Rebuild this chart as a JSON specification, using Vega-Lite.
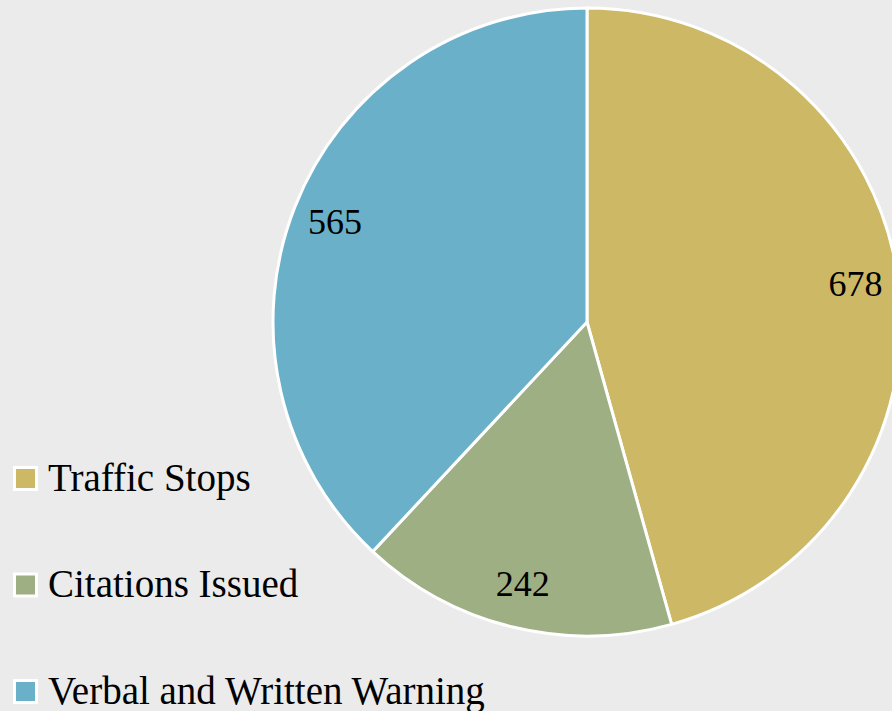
{
  "$schema": "https://vega.github.io/schema/vega-lite/v6.json",
  "autosize": "none",
  "width": 610,
  "height": 610,
  "padding": {"left": 282, "top": 17, "right": 0, "bottom": 84},
  "background": "#ebebeb",
  "config": {"view": {"stroke": null}, "font": "Liberation Serif"},
  "data": {
    "values": [
      {"category": "Traffic Stops", "count": 678, "order": 1},
      {"category": "Citations Issued", "count": 242, "order": 2},
      {"category": "Verbal and Written Warning", "count": 565, "order": 3}
    ]
  },
  "encoding": {
    "theta": {"field": "count", "type": "quantitative", "stack": true},
    "order": {"field": "order", "type": "quantitative"},
    "color": {
      "field": "category",
      "type": "nominal",
      "sort": ["Traffic Stops", "Citations Issued", "Verbal and Written Warning"],
      "scale": {
        "domain": ["Traffic Stops", "Citations Issued", "Verbal and Written Warning"],
        "range": ["#cdb866", "#9eaf83", "#6ab0c8"]
      },
      "legend": {
        "title": null,
        "orient": "none",
        "legendX": -276,
        "legendY": 442,
        "padding": 0,
        "symbolType": "square",
        "symbolSize": 484,
        "symbolStrokeColor": "white",
        "symbolStrokeWidth": 3,
        "symbolOpacity": 1,
        "labelFont": "Liberation Serif",
        "labelFontSize": 39,
        "labelColor": "#000000",
        "labelOffset": 3,
        "labelLimit": 600,
        "rowPadding": 66.5
      }
    }
  },
  "layer": [
    {
      "mark": {"type": "arc", "outerRadius": 314, "stroke": "white", "strokeWidth": 3}
    },
    {
      "mark": {"type": "text", "radius": 271, "fontSize": 36, "font": "Liberation Serif", "color": "#000000"},
      "encoding": {
        "text": {"field": "count", "type": "quantitative"},
        "color": {"value": "#000000"}
      }
    }
  ]
}
